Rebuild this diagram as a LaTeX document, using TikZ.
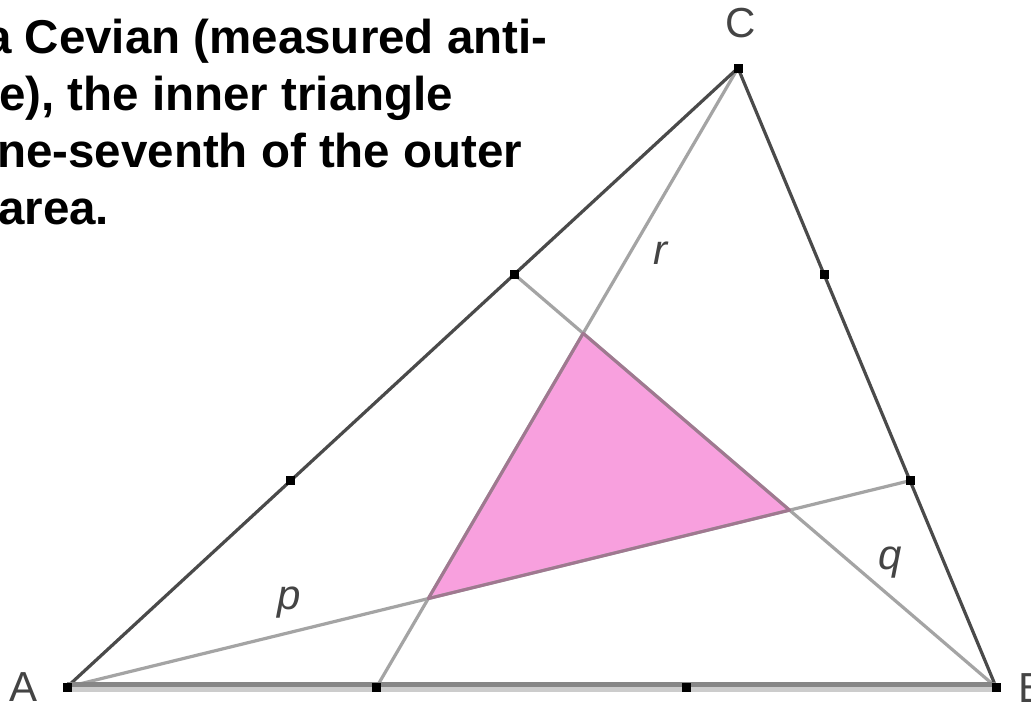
\documentclass[tikz,border=0pt]{standalone}
\usepackage{fontspec}
\setmainfont{Liberation Sans}
\usetikzlibrary{calc}
\definecolor{sidecol}{HTML}{4A4A4A}
\definecolor{cevcol}{HTML}{A4A4A4}
\definecolor{pinkfill}{RGB}{248,160,222}
\definecolor{pinkedge}{HTML}{A07890}
\definecolor{labcol}{HTML}{444444}
\tikzset{
  side/.style={draw=sidecol,line width=3.2pt},
  cevian/.style={draw=cevcol,line width=3.2pt},
  dotpt/.style={fill=black,minimum size=9pt,inner sep=0pt,outer sep=0pt,rectangle},
  lab/.style={text=labcol,inner sep=0pt,font=\fontsize{42}{42}\selectfont},
  ilab/.style={lab,font=\fontsize{42}{42}\selectfont\itshape},
  capline/.style={anchor=base west,inner sep=0pt,font=\fontsize{47.5}{57}\selectfont\bfseries}
}
\begin{document}
\begin{tikzpicture}[x=1pt,y=-1pt]
\useasboundingbox (0,0) rectangle (1031,704);
\clip (0,0) rectangle (1031,704);
\fill[white] (0,0) rectangle (1031,704);
% vertices
\coordinate (A) at (67,687);
\coordinate (B) at (996,687);
\coordinate (C) at (738,68);
% trisection points
\coordinate (F1) at ($(A)!1/3!(B)$);
\coordinate (F2) at ($(A)!2/3!(B)$);
\coordinate (E1) at ($(C)!1/3!(A)$);
\coordinate (E2) at ($(C)!2/3!(A)$);
\coordinate (D1) at ($(B)!1/3!(C)$);
\coordinate (D2) at ($(B)!2/3!(C)$);
% inner triangle vertices
\coordinate (P1) at ($(A)!3/7!(D1)$);
\coordinate (P2) at ($(A)!6/7!(D1)$);
\coordinate (P3) at ($(B)!6/7!(E1)$);
% inner triangle
\fill[pinkfill] (P1) -- (P2) -- (P3) -- cycle;
% cevians
\draw[cevian] (A) -- (D1);
\draw[cevian] (B) -- (E1);
\draw[cevian] (C) -- (F1);
\draw[draw=pinkedge,line width=3pt,line join=round] (P1) -- (P2) -- (P3) -- cycle;
% sides
\draw[side] (B) -- (C) -- (A);
\draw[draw=black!20,line width=5pt] ($(A)+(0,2.5)$) -- ($(B)+(0,2.5)$);
\draw[draw=black!47,line width=5pt] ($(A)+(0,-2.5)$) -- ($(B)+(0,-2.5)$);
% dots
\foreach \p in {A,B,C,F1,F2,E1,E2,D1,D2} \node[dotpt] at (\p) {};
% labels
\node[lab] (lA) at (24,687) {A};
\node[lab,anchor=west] (lB) at (1018,688) {B};
\node[lab] (lC) at (741,23) {C};
\node[ilab] (lp) at (289,603) {p};
\node[ilab] (lq) at (890,563) {q};
\node[ilab] (lr) at (660,253) {r};
% caption text (cropped at left)
\node[capline] (t1) at (-15,53) {a Cevian (measured anti-};
\node[capline] (t2) at (-1,110) {e), the inner triangle};
\node[capline] (t3) at (-3,167) {ne-seventh of the outer};
\node[capline] (t4) at (-2,224) {area.};
\end{tikzpicture}
\end{document}
